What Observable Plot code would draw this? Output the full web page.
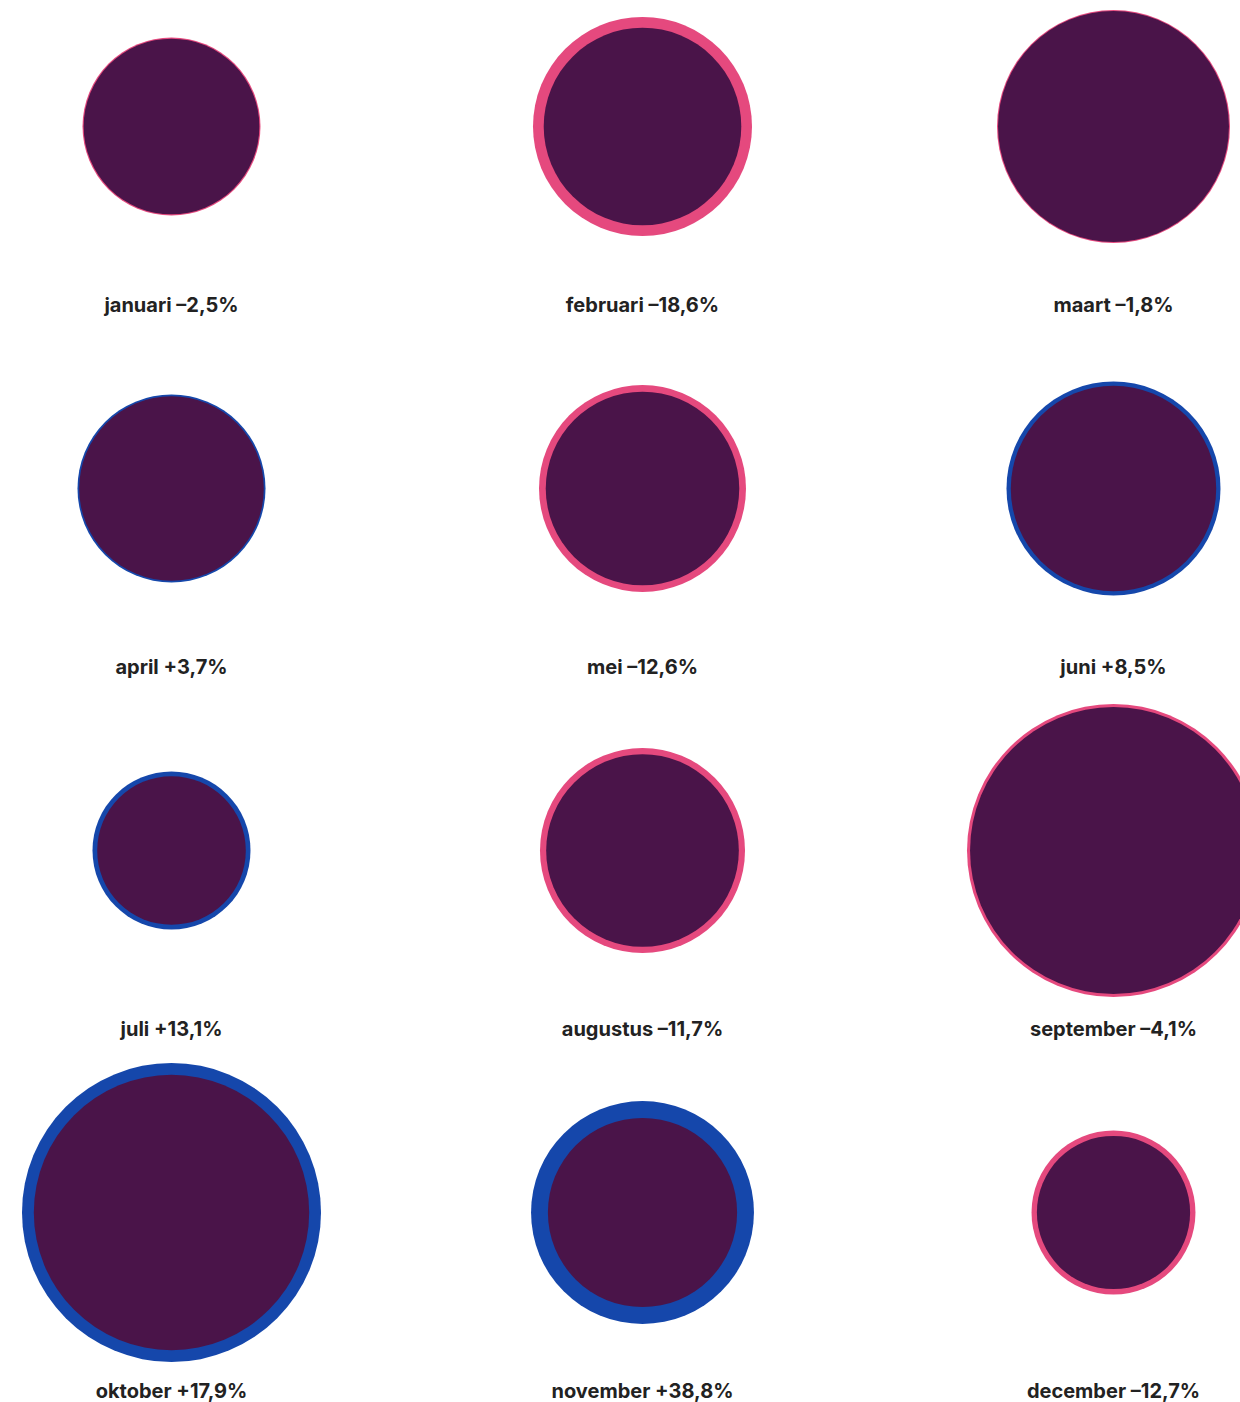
<!DOCTYPE html>
<html>
<head>
<meta charset="utf-8">
<script src="https://cdn.jsdelivr.net/npm/d3@7"></script>
<script src="https://cdn.jsdelivr.net/npm/@observablehq/plot@0.6"></script>
<style>
  html, body { margin: 0; padding: 0; background: #fff; }
  #chart svg { display: block; overflow: hidden; }
</style>
</head>
<body>
<div id="chart"></div>
<script>
const months = ["januari", "februari", "maart", "april", "mei", "juni", "juli", "augustus", "september", "oktober", "november", "december"];
const previous = [792, 1199, 1357, 852, 1071, 1055, 552, 1051, 2146, 1896, 895, 672];
const current  = [772,  976, 1333, 884,  936, 1145, 624,  928, 2058, 2235, 1242, 587];
const changeLabels = ["–2,5%", "–18,6%", "–1,8%", "+3,7%", "–12,6%", "+8,5%", "+13,1%", "–11,7%", "–4,1%", "+17,9%", "+38,8%", "–12,7%"];

const PURPLE = "#4a1449";
const PINK = "#e5497e";
const BLUE = "#1547ab";

const data = months.map((m, i) => ({
  month: m,
  col: i % 3,
  row: Math.floor(i / 3),
  outer: Math.max(previous[i], current[i]),
  inner: Math.min(previous[i], current[i]),
  ring: current[i] >= previous[i] ? BLUE : PINK,
  label: m + " " + changeLabels[i]
}));

const chart = Plot.plot({
  width: 1240,
  height: 1402,
  margin: 0,
  style: { background: "#fff", fontFamily: "Inter, 'Noto Sans', sans-serif" },
  x: { type: "point", domain: [0, 1, 2], range: [171, 1113], padding: 0, axis: null },
  y: { type: "point", domain: [0, 1, 2, 3], range: [126, 1212], padding: 0, axis: null },
  r: { type: "sqrt", domain: [0, 1000], range: [0, 100] },
  color: { type: "identity" },
  marks: [
    Plot.dot(data, { x: "col", y: "row", r: "outer", fill: "ring" }),
    Plot.dot(data, { x: "col", y: "row", r: "inner", fill: PURPLE }),
    Plot.text(data, {
      x: "col", y: "row", dy: 179, text: "label",
      fontSize: 20, fontWeight: 700, fill: "#222"
    })
  ]
});
document.getElementById("chart").appendChild(chart);
</script>
</body>
</html>
